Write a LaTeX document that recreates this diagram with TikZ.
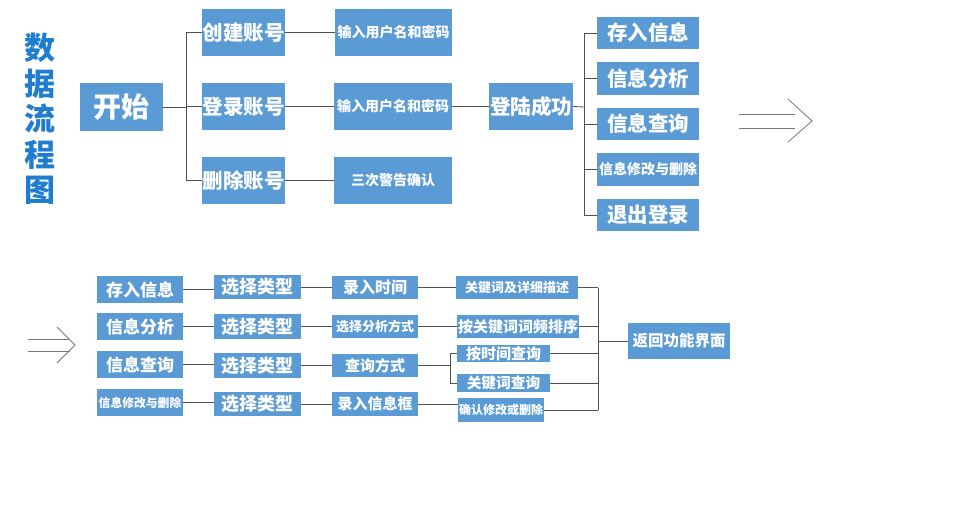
\documentclass[tikz,border=0pt]{standalone}
\usepackage{fontspec}
\setmainfont{Noto Sans CJK SC}
\definecolor{boxblue}{RGB}{91,155,213}
\definecolor{titleblue}{RGB}{32,124,207}
\definecolor{linegray}{RGB}{80,80,80}
\definecolor{arrowgray}{RGB}{120,120,120}
\tikzset{
  box/.style={fill=boxblue, text=white, inner sep=0pt},
  sz/.style={font=\bfseries\fontsize{#1}{#1}\selectfont},
  wh/.style n args={2}{minimum width=#1pt, minimum height=#2pt},
  conn/.style={draw=linegray, line width=0.85pt},
  dbl/.style={draw=arrowgray, line width=0.8pt},
}
\begin{document}
\begin{tikzpicture}[x=1pt,y=-1pt]
\useasboundingbox[fill=white] (0,0) rectangle (960,506);

% title
\node[text=titleblue, font=\bfseries\fontsize{31}{35.5}\selectfont, align=center, inner sep=0pt] (title) at (40,119) {数\\据\\流\\程\\图};

% top row
\node[box, sz=28, wh={83}{48}] (start) at (121.5,107) {开始};
\node[box, sz=20.5, wh={83}{47}] (create) at (243.5,32.5) {创建账号};
\node[box, sz=20.5, wh={83}{47}] (login) at (243.5,106.5) {登录账号};
\node[box, sz=20.5, wh={83}{47}] (del) at (243.5,180.5) {删除账号};
\node[box, sz=14, wh={117}{47}] (in1) at (393.5,32.5) {输入用户名和密码};
\node[box, sz=14, wh={118}{47}] (in2) at (393,106.5) {输入用户名和密码};
\node[box, sz=14, wh={118}{47}] (warn) at (393,180.5) {三次警告确认};
\node[box, sz=20.5, wh={84}{47}] (succ) at (531,106.5) {登陆成功};
\node[box, sz=20.5, wh={102}{32}] (r1) at (648,33) {存入信息};
\node[box, sz=20.5, wh={102}{33}] (r2) at (648,78.5) {信息分析};
\node[box, sz=20.5, wh={102}{32}] (r3) at (648,124) {信息查询};
\node[box, sz=14, wh={102}{33}] (r4) at (648,169.5) {信息修改与删除};
\node[box, sz=20.5, wh={102}{32}] (r5) at (648,215) {退出登录};

\coordinate (bx1) at (186,107);
\draw[conn] (start.east) -- (bx1);
\draw[conn] (bx1 |- create.west) -- (bx1 |- del.west);
\draw[conn] (bx1 |- create.west) -- (create.west);
\draw[conn] (bx1 |- login.west) -- (login.west);
\draw[conn] (bx1 |- del.west) -- (del.west);
\draw[conn] (create.east) -- (in1.west);
\draw[conn] (login.east) -- (in2.west);
\draw[conn] (del.east) -- (warn.west);
\draw[conn] (in2.east) -- (succ.west);
\coordinate (bx2) at (584,107);
\draw[conn] (succ.east) -- (bx2);
\draw[conn] (bx2 |- r1.west) -- (bx2 |- r5.west);
\foreach \n in {r1,r2,r3,r4,r5} \draw[conn] (bx2 |- \n.west) -- (\n.west);

% top double arrow
\coordinate (ta1) at (739,114); \coordinate (ta2) at (795,114);
\coordinate (tb1) at (739,128); \coordinate (tb2) at (795,128);
\coordinate (tc1) at (788,99); \coordinate (tc2) at (812,121); \coordinate (tc3) at (788,142);
\draw[dbl] (ta1) -- (ta2);
\draw[dbl] (tb1) -- (tb2);
\draw[dbl] (tc1) -- (tc2) -- (tc3);

% bottom double arrow
\coordinate (ba1) at (28,339); \coordinate (ba2) at (70,339);
\coordinate (bb1) at (28,351); \coordinate (bb2) at (70,351);
\coordinate (bc1) at (57,327); \coordinate (bc2) at (75,345); \coordinate (bc3) at (57,363);
\draw[dbl] (ba1) -- (ba2);
\draw[dbl] (bb1) -- (bb2);
\draw[dbl] (bc1) -- (bc2) -- (bc3);

% bottom rows
\node[box, sz=17, wh={86}{27}] (a1) at (140,289.5) {存入信息};
\node[box, sz=17, wh={86}{27}] (a2) at (140,326.5) {信息分析};
\node[box, sz=17, wh={86}{27}] (a3) at (140,364.5) {信息查询};
\node[box, sz=11.8, wh={86}{27}] (a4) at (140,402.5) {信息修改与删除};

\node[box, sz=18, wh={87}{24}] (b1) at (257.5,287) {选择类型};
\node[box, sz=18, wh={87}{25}] (b2) at (257.5,326.5) {选择类型};
\node[box, sz=18, wh={87}{25}] (b3) at (257.5,365.5) {选择类型};
\node[box, sz=18, wh={87}{24}] (b4) at (257.5,404) {选择类型};

\node[box, sz=16, wh={86}{23}] (c1) at (375,287.5) {录入时间};
\node[box, sz=13, wh={86}{23}] (c2) at (375,326.5) {选择分析方式};
\node[box, sz=15, wh={86}{23}] (c3) at (375,365.5) {查询方式};
\node[box, sz=15, wh={86}{24}] (c4) at (375,404) {录入信息框};

\node[box, sz=13, wh={122}{23}] (d1) at (517,287.5) {关键词及详细描述};
\node[box, sz=15, wh={122}{23}] (d2) at (518,326.5) {按关键词词频排序};
\node[box, sz=15, wh={93}{17}] (d3) at (503.5,353.5) {按时间查询};
\node[box, sz=14.7, wh={93}{18}] (d4) at (503.5,383) {关键词查询};
\node[box, sz=12, wh={86}{24}] (d5) at (501,410) {确认修改或删除};

\node[box, sz=15.5, wh={102}{36}] (ret) at (679,341) {返回功能界面};

\foreach \i in {1,2,3,4} \draw[conn] (a\i.east) -- (a\i.east -| b\i.west);
\foreach \i in {1,2,3,4} \draw[conn] (b\i.east) -- (b\i.east -| c\i.west);
\draw[conn] (c1.east) -- (c1.east -| d1.west);
\draw[conn] (c2.east) -- (c2.east -| d2.west);
\draw[conn] (c4.east) -- (c4.east -| d5.west);
\coordinate (fk) at (450,365.5);
\draw[conn] (c3.east) -- (fk);
\draw[conn] (fk |- d3.west) -- (fk |- d4.west);
\draw[conn] (fk |- d3.west) -- (d3.west);
\draw[conn] (fk |- d4.west) -- (d4.west);

\coordinate (bx3) at (598,341);
\draw[conn] (bx3 |- d1.east) -- (bx3 |- d5.east);
\foreach \n in {d1,d2,d3,d4,d5} \draw[conn] (\n.east) -- (bx3 |- \n.east);
\draw[conn] (bx3) -- (ret.west);
\end{tikzpicture}
\end{document}
